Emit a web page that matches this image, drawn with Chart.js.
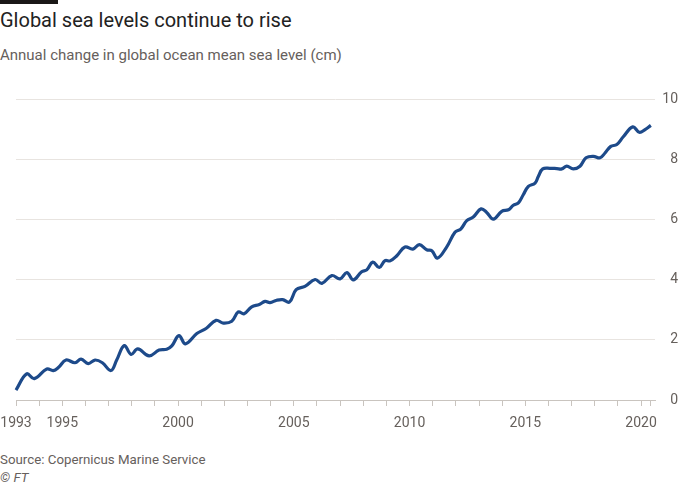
<!DOCTYPE html>
<html>
<head>
<meta charset="utf-8">
<script src="https://cdn.jsdelivr.net/npm/chart.js@4"></script>
<style>
  html, body { margin: 0; padding: 0; background: #ffffff; width: 680px; height: 486px; overflow: hidden; }
  .t { position: absolute; left: 0; white-space: nowrap; font-family: Roboto, "Noto Sans", sans-serif; }
  #bar { position: absolute; left: 0; top: 0; width: 58px; height: 4px; background: #1a1817; }
  #title { top: 8px; font-size: 20px; color: #222222; }
  #subtitle { top: 46px; font-size: 15px; color: #66605c; }
  #source { top: 452px; font-size: 13.3px; color: #66605c; }
  #copy { top: 470px; font-size: 13.3px; color: #66605c; font-style: italic; }
  #wrap { position: absolute; left: 0; top: 80px; width: 680px; height: 360px; }
</style>
</head>
<body>
<div id="bar"></div>
<div class="t" id="title">Global sea levels continue to rise</div>
<div class="t" id="subtitle">Annual change in global ocean mean sea level (cm)</div>
<div id="wrap"><canvas id="c" width="680" height="360"></canvas></div>
<div class="t" id="source">Source: Copernicus Marine Service</div>
<div class="t" id="copy">© FT</div>
<script>
const years = [1993.00,1993.46,1993.79,1994.33,1994.61,1994.83,1995.16,1995.55,1995.81,1996.12,1996.41,1996.73,1997.10,1997.35,1997.68,1997.97,1998.26,1998.75,1999.18,1999.51,1999.73,2000.04,2000.32,2000.81,2001.21,2001.64,2001.95,2002.32,2002.60,2002.85,2003.18,2003.51,2003.76,2003.97,2004.26,2004.52,2004.81,2005.10,2005.48,2005.92,2006.21,2006.64,2007.00,2007.29,2007.57,2007.93,2008.15,2008.41,2008.69,2008.94,2009.16,2009.45,2009.80,2010.14,2010.42,2010.74,2010.96,2011.20,2011.60,2011.96,2012.21,2012.47,2012.75,2013.09,2013.33,2013.62,2013.98,2014.27,2014.48,2014.70,2014.91,2015.13,2015.42,2015.56,2015.75,2016.07,2016.36,2016.57,2016.79,2017.07,2017.36,2017.62,2017.94,2018.23,2018.44,2018.69,2018.95,2019.23,2019.64,2019.92,2020.17,2020.42];
const seaLevel = [0.33,0.87,0.71,1.03,0.98,1.08,1.33,1.24,1.36,1.21,1.33,1.24,0.98,1.33,1.81,1.52,1.70,1.47,1.66,1.69,1.80,2.14,1.87,2.21,2.38,2.65,2.56,2.62,2.93,2.87,3.10,3.18,3.28,3.24,3.32,3.34,3.26,3.67,3.78,4.01,3.88,4.14,4.03,4.24,4.00,4.27,4.33,4.59,4.41,4.64,4.63,4.80,5.09,5.02,5.17,5.00,4.97,4.72,5.09,5.58,5.69,5.97,6.09,6.36,6.24,6.02,6.28,6.33,6.48,6.56,6.83,7.11,7.22,7.44,7.69,7.71,7.70,7.69,7.78,7.69,7.78,8.06,8.11,8.06,8.22,8.44,8.50,8.76,9.09,8.91,9.00,9.14];
const labelledYears = [1993, 1995, 2000, 2005, 2010, 2015, 2020];
const yTicks = [0, 2, 4, 6, 8, 10];

const points = years.map((y, i) => ({ x: y, y: seaLevel[i] }));
const fontFam = 'Roboto, "Noto Sans", sans-serif';

new Chart(document.getElementById('c'), {
  type: 'line',
  data: { datasets: [{
    data: points,
    borderColor: '#1d4a8a',
    borderWidth: 3.2,
    pointRadius: 0,
    tension: 0.4,
    fill: false,
    clip: false
  }]},
  options: {
    responsive: false,
    animation: false,
    events: [],
    layout: { padding: { left: 16, top: 19.5, right: 2, bottom: 0 } },
    plugins: { legend: { display: false }, tooltip: { enabled: false } },
    scales: {
      x: {
        type: 'linear',
        min: 1993,
        max: 2020.6,
        afterBuildTicks: (scale) => {
          const t = [];
          for (let y = 1993; y <= 2020; y++) t.push({ value: y });
          t.push({ value: years[years.length - 1] });
          scale.ticks = t;
        },
        afterFit: (scale) => {
          scale.height = 40;
          scale.paddingLeft = 0;
          scale.paddingRight = 0;
        },
        ticks: {
          autoSkip: false,
          maxRotation: 0,
          padding: 9,
          color: '#66605c',
          font: { family: fontFam, size: 14 },
          callback: (v) => labelledYears.includes(v) ? String(v) : ''
        },
        grid: { drawOnChartArea: false, tickLength: 6, color: '#c9c4bf', lineWidth: 1 },
        border: { display: true, color: '#c9c4bf', width: 1 }
      },
      y: {
        position: 'right',
        min: 0,
        max: 10,
        afterBuildTicks: (scale) => { scale.ticks = yTicks.map(v => ({ value: v })); },
        afterFit: (scale) => {
          scale.width = 23;
          scale.paddingTop = 0;
          scale.paddingBottom = 0;
        },
        ticks: {
          crossAlign: 'far',
          padding: 4,
          color: '#66605c',
          font: { family: fontFam, size: 14 }
        },
        grid: { color: '#e8e4e0', lineWidth: 1, drawTicks: false },
        border: { display: false }
      }
    }
  }
});
</script>
</body>
</html>
